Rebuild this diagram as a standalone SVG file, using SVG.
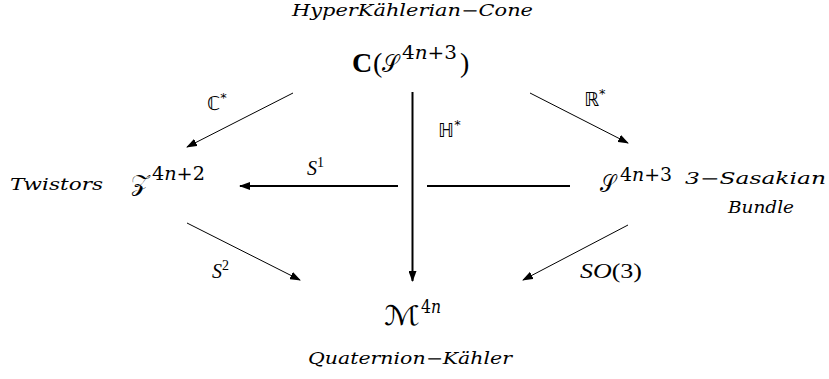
<svg xmlns="http://www.w3.org/2000/svg" width="829" height="379" viewBox="0 0 829 379">
<style>
.lbl{font-family:"DejaVu Serif","Liberation Serif",serif;font-style:italic;font-size:16px;fill:#000}
.math{font-family:"Liberation Serif","DejaVu Serif",serif;fill:#000}
.cal{font-family:"DejaVu Serif","DejaVu Sans","Noto Sans",serif;font-style:normal;fill:#000}
.sup{font-family:"DejaVu Serif","Liberation Serif",serif;font-size:18px;fill:#000}
.ni{font-style:italic}
.ds{font-family:"DejaVu Sans",sans-serif;font-size:19px;fill:#000}
.it{font-family:"Liberation Serif","DejaVu Serif",serif;font-style:italic;fill:#000}
.thin{stroke:#000;stroke-width:1;fill:none}
.thick{stroke:#000;stroke-width:2;fill:none}
</style>
<defs>
<marker id="ah" viewBox="0 0 11 8" refX="10" refY="4" markerWidth="11" markerHeight="8" markerUnits="userSpaceOnUse" orient="auto">
<path d="M0,0 L11,4 L0,8 Z" fill="#000"/>
</marker>
</defs>
<rect width="829" height="379" fill="#fff"/>
<g id="cone">
<text class="lbl" x="412.5" y="16" text-anchor="middle" textLength="241" lengthAdjust="spacingAndGlyphs">HyperKählerian−Cone</text>
<text class="math" x="352" y="72" font-size="28" font-weight="bold">C</text>
<text class="math" x="373" y="72" font-size="28">(</text>
<text class="cal" x="382" y="72" font-size="24" textLength="17" lengthAdjust="spacingAndGlyphs">𝒮</text>
<text class="sup" x="402" y="59" textLength="55" lengthAdjust="spacingAndGlyphs">4<tspan class="ni">n</tspan>+3</text>
<text class="math" x="460" y="72" font-size="28">)</text>
</g>
<g id="twistors">
<text class="lbl" x="10" y="190" textLength="93" lengthAdjust="spacingAndGlyphs">Twistors</text>
<text class="cal" x="131" y="191" font-size="24" textLength="18" lengthAdjust="spacingAndGlyphs">𝒵</text>
<text class="sup" x="152" y="180" textLength="53" lengthAdjust="spacingAndGlyphs">4<tspan class="ni">n</tspan>+2</text>
</g>
<g id="sasakian">
<text class="cal" x="600" y="192" font-size="24" textLength="16" lengthAdjust="spacingAndGlyphs">𝒮</text>
<text class="sup" x="620" y="181" textLength="52" lengthAdjust="spacingAndGlyphs">4<tspan class="ni">n</tspan>+3</text>
<text class="lbl" x="685" y="184" textLength="141" lengthAdjust="spacingAndGlyphs">3−Sasakian</text>
<text class="lbl" x="761" y="213" text-anchor="middle" textLength="66" lengthAdjust="spacingAndGlyphs">Bundle</text>
</g>
<g id="qk">
<text class="cal" x="384" y="325" font-size="27" textLength="36" lengthAdjust="spacingAndGlyphs">ℳ</text>
<text class="sup" x="421" y="313" textLength="20" lengthAdjust="spacingAndGlyphs">4<tspan class="ni">n</tspan></text>
<text class="lbl" x="410" y="364" text-anchor="middle" textLength="204" lengthAdjust="spacingAndGlyphs">Quaternion−Kähler</text>
</g>
<g id="connectors">
<line class="thin" x1="293" y1="93" x2="187" y2="147" marker-end="url(#ah)"/>
<line class="thin" x1="530" y1="93" x2="628" y2="143" marker-end="url(#ah)"/>
<line class="thin" x1="187" y1="223" x2="300" y2="280" marker-end="url(#ah)"/>
<line class="thin" x1="628" y1="225" x2="523" y2="280" marker-end="url(#ah)"/>
<line class="thick" x1="412.5" y1="92" x2="412.5" y2="281" marker-end="url(#ah)"/>
<line class="thick" x1="398" y1="186" x2="240" y2="186" marker-end="url(#ah)"/>
<line class="thick" x1="427" y1="186" x2="570" y2="186"/>
<text class="ds" x="207" y="110">ℂ<tspan font-size="13" dy="-8">*</tspan></text>
<text class="ds" x="584" y="106">ℝ<tspan font-size="13" dy="-8">*</tspan></text>
<text class="ds" x="438" y="137">ℍ<tspan font-size="13" dy="-8">*</tspan></text>
<text class="it" x="307" y="175" font-size="20">S<tspan font-style="normal" font-size="14" dy="-8">1</tspan></text>
<text class="it" x="212" y="278" font-size="20">S<tspan font-style="normal" font-size="14" dy="-8">2</tspan></text>
<text class="it" x="580" y="278" font-size="20" textLength="62" lengthAdjust="spacingAndGlyphs">SO<tspan font-style="normal">(3)</tspan></text>
</g>
</svg>
